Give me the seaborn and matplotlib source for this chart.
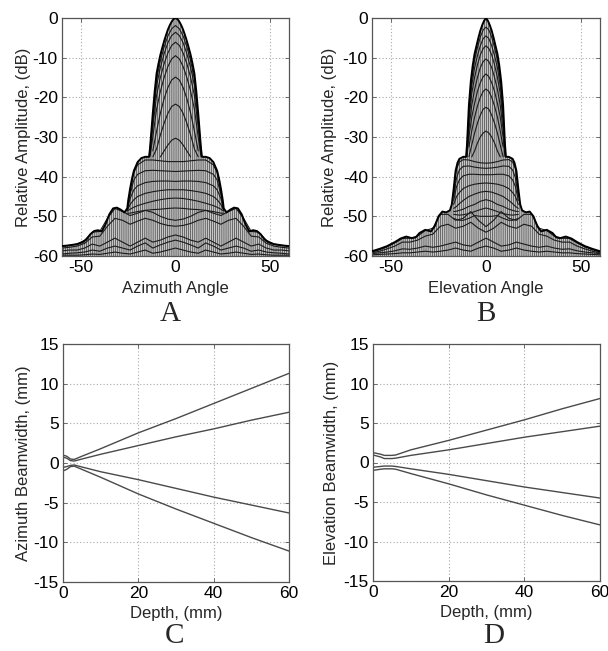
import numpy as np
import pandas as pd
import matplotlib
matplotlib.use("Agg")
import matplotlib.pyplot as plt
import seaborn as sns

sns.set_theme(style="white")
plt.rcParams["font.family"] = ["Liberation Sans", "DejaVu Sans"]
plt.rcParams["axes.unicode_minus"] = False
plt.rcParams["hatch.linewidth"] = 0.45
plt.rcParams["hatch.color"] = "#333333"

# ---------------- Panel A data (azimuth beam pattern, half profiles, mirrored) ----------------
env_ang_A = [0, 1, 2, 3, 4, 5, 6, 7, 8, 9, 10, 11, 12, 12.5, 13, 13.5, 14, 16, 18, 20, 22, 23,
             24, 25, 25.5, 27, 29, 31, 33, 35, 37, 39, 41, 43, 45, 47, 49, 52, 56, 60]
env_A = [0, -0.25, -0.9, -1.8, -2.9, -4.3, -5.8, -7.5, -9.3, -11.5, -14, -18.5, -24, -27, -30,
         -33, -35, -35, -35.3, -36.3, -38.5, -40.5, -43, -46, -48, -49, -48.3, -47.8, -48, -49.5,
         -52, -53.8, -53.5, -53.7, -54.5, -55.8, -56.5, -57, -57.3, -57.5]

arch_ang_A = [0, 2, 4, 6, 8, 10, 12, 13.5]
arches_A = [
    [-1.9, -2.7, -4.5, -7.3, -10.8, -15.5, -25, -33.5],
    [-3.6, -4.4, -6.2, -9, -12.5, -17, -26, -34],
    [-6.1, -6.9, -8.8, -11.5, -15, -19.5, -27.5, -34.5],
    [-9.5, -10.3, -12.2, -15, -18.5, -23, -30, -35],
    [-14.9, -15.6, -17.5, -20.3, -24, -28.5, -33.5, np.nan],
    [-21.7, -22.3, -24, -26.5, -29.5, -33, -35, np.nan],
    [-30.3, -30.8, -32, -33.5, -35, np.nan, np.nan, np.nan],
]

plat_ang_A = [0, 4, 8, 12, 16, 20, 22, 24, 25.5]
plats_A = [
    [-36.2, -36.2, -36, -35.8, -35.8, -37, -39, -43.8, -48.2],
    [-38.7, -38.6, -38.5, -38.4, -38.5, -39.4, -40.8, -44.5, -48.3],
    [-41.2, -41.1, -41.1, -41.2, -41.5, -42.3, -43.3, -45.5, -48.4],
    [-43.3, -43.3, -43.5, -43.8, -44.2, -45, -45.8, -47, -48.5],
    [-45.4, -45.5, -45.8, -46.2, -46.7, -47.3, -47.7, -48.2, -48.7],
    [-47.9, -48, -48.2, -48.3, -48.5, -48.8, -49, -49.2, -49.2],
]

low_ang = [0, 4, 8, 12, 16, 20, 24, 28, 32, 36, 40, 44, 48, 52, 56, 60]
lows_A = [
    [-51, -50.7, -50, -49, -48.5, -49.2, -49.8, -48.8, -48, -50.5, -53.8, -54, -56, -57, -57.3, -57.6],
    [-52.5, -52.3, -51.8, -51, -50.5, -51.2, -52, -51, -50.5, -52.5, -55, -55.2, -56.8, -57.5, -57.8, -58],
    [-54.7, -55.2, -56, -56.5, -55.5, -56.5, -57.5, -56.5, -55.5, -56.5, -57.5, -57, -58, -58.5, -58.5, -58.7],
    [-56, -56.5, -57.2, -58, -56.7, -57.5, -58.5, -58, -57.5, -58, -58.8, -58.5, -59, -59.2, -59.3, -59.5],
    [-58, -58.5, -59, -59.3, -58.5, -59, -59.5, -59.3, -59, -59.3, -59.6, -59.5, -59.7, -59.8, -59.8, -59.8],
]

# ---------------- Panel B data (elevation beam pattern) ----------------
env_ang_B = [0, 1, 2, 3, 4, 5, 6, 7, 8, 9, 9.5, 10, 10.5, 12, 14, 15, 16, 17, 18, 19, 21, 23,
             25, 27, 29, 32, 35, 37, 39, 42, 45, 48, 52, 56, 60]
env_B = [0, -0.7, -1.8, -3.2, -5, -7, -9, -12, -16, -22, -27, -32, -35, -35, -35.5, -36.5, -38.5,
         -43, -47, -48.5, -49, -48.8, -50, -52.5, -53.8, -53.4, -54.2, -55.3, -55.5, -55.1,
         -55.6, -56.5, -57.5, -58.2, -58.8]

arch_ang_B = [0, 1.5, 3, 4.5, 6, 7.5, 9, 10]
arches_B = [
    [-2.3, -3, -4.8, -7.5, -10.5, -15.5, -23.5, -33],
    [-4.5, -5.2, -7, -9.5, -12.5, -17, -24.5, -33.5],
    [-7, -7.7, -9.3, -11.8, -15, -19, -26, -34],
    [-10.3, -11, -12.5, -15, -18, -22, -28, -34.5],
    [-14.1, -14.8, -16.3, -18.5, -21.5, -25, -30, -35],
    [-17.9, -18.5, -20, -22.2, -25, -28.5, -32.5, np.nan],
    [-22.5, -23, -24.5, -26.5, -29, -32, -35, np.nan],
    [-28.5, -29, -30, -31.5, -33.5, -35, np.nan, np.nan],
]

plat_ang_B = [0, 3, 6, 9, 12, 14, 15.5, 17]
plats_B = [
    [-36.6, -36.5, -36.2, -35.8, -35.7, -36.3, -38, -44],
    [-37.9, -37.8, -37.6, -37.3, -37.4, -38.3, -40.3, -45],
    [-39.5, -39.5, -39.4, -39.4, -39.8, -40.8, -42.5, -46],
    [-41.6, -41.7, -41.9, -42.3, -43, -44, -45, -47],
    [-43.7, -43.9, -44.4, -45, -46, -46.8, -47.5, -48],
    [-45.8, -46.2, -47, -47.5, -48.2, -48.5, -48.7, -48.8],
    [-47.9, -48.3, -48.8, -49.3, -49.6, -49.7, -49.6, -49.5],
    [-50, -50, -49.8, -50.5, -51, -51, -50.8, -50.5],
]

lows_B = [
    [-52.6, -51, -48.8, -50.5, -51, -49.5, -49.5, -53, -53.6, -55, -55.5, -55.6, -56.7, -57.7, -58.4, -59],
    [-54, -53, -51.5, -52.5, -53, -52, -52.5, -54.5, -55, -56, -56.5, -56.5, -57.5, -58.2, -58.8, -59.2],
    [-55.5, -56.5, -57.5, -57.2, -56.5, -57, -57.5, -57.8, -57.5, -58, -58.3, -58.2, -58.7, -59, -59.2, -59.4],
    [-57.5, -58, -58.8, -58.5, -58, -58.5, -58.8, -59, -58.8, -59, -59.2, -59.2, -59.4, -59.5, -59.6, -59.7],
]

# ---------------- Panels C / D data (beamwidth vs depth) ----------------
depth_C = [0, 1, 2, 3, 5, 10, 20, 30, 40, 50, 60]
c_outer_up = [1.0, 0.85, 0.5, 0.45, 0.85, 1.8, 3.8, 5.6, 7.5, 9.4, 11.3]
c_inner_up = [0.75, 0.6, 0.3, 0.25, 0.5, 1.1, 2.2, 3.3, 4.3, 5.4, 6.4]
c_inner_lo = [-0.55, -0.45, -0.3, -0.25, -0.5, -1.1, -2.1, -3.2, -4.3, -5.3, -6.3]
c_outer_lo = [-1.0, -0.8, -0.45, -0.4, -0.8, -1.8, -3.9, -5.8, -7.6, -9.4, -11.1]

depth_D = [0, 2, 3, 5, 6, 10, 20, 30, 40, 50, 60]
d_outer_up = [1.25, 1.05, 0.9, 0.9, 0.95, 1.6, 2.8, 4.1, 5.4, 6.8, 8.1]
d_inner_up = [0.95, 0.7, 0.5, 0.5, 0.55, 0.9, 1.6, 2.4, 3.2, 3.9, 4.6]
d_inner_lo = [-0.6, -0.5, -0.45, -0.45, -0.5, -0.8, -1.5, -2.3, -3.1, -3.8, -4.5]
d_outer_lo = [-1.0, -0.85, -0.8, -0.8, -0.85, -1.4, -2.7, -4.1, -5.4, -6.7, -7.9]

angle_ticks = [-50, 0, 50]
db_ticks = [0, -10, -20, -30, -40, -50, -60]
depth_ticks = [0, 20, 40, 60]
bw_ticks = [15, 10, 5, 0, -5, -10, -15]


def mirror(ang, vals):
    a = np.asarray(ang, float)
    v = np.asarray(vals, float)
    return np.concatenate([-a[::-1], a[1:]]), np.concatenate([v[::-1], v[1:]])


TICK_FS = 12.5
LAB_FS = 12
LETTER_FS = 21
SPINE_C = "#555555"


def style_axes(ax):
    for s in ax.spines.values():
        s.set_visible(True)
        s.set_color(SPINE_C)
        s.set_linewidth(0.9)
    ax.tick_params(direction="in", length=3, width=0.6, colors=SPINE_C,
                   labelcolor="black", labelsize=TICK_FS, pad=3,
                   top=True, right=True, bottom=True, left=True)
    ax.grid(True, linestyle=(0, (1, 2)), color="#a8a8a8", linewidth=0.8)
    ax.set_axisbelow(True)


def draw_pattern(ax, env_ang, env, arch_ang, arches, plat_ang, plats, lows, xlabel):
    xa, ya = mirror(env_ang, env)
    ax.fill_between(xa, -60, ya, facecolor="#c6c6c6", edgecolor="#333333",
                    hatch="|" * 8, linewidth=0, zorder=1)
    row_c = "#1a1a1a"
    for grp_ang, grp in ((arch_ang, arches), (plat_ang, plats), (low_ang, lows)):
        for r in grp:
            x, y = mirror(grp_ang, r)
            df = pd.DataFrame({"x": x, "y": y}).dropna()
            sns.lineplot(data=df, x="x", y="y", ax=ax, color=row_c, lw=0.8,
                         estimator=None, sort=False, zorder=2)
    df = pd.DataFrame({"x": xa, "y": ya})
    sns.lineplot(data=df, x="x", y="y", ax=ax, color="black", lw=1.4,
                 estimator=None, sort=False, zorder=3)
    ax.set_xlim(-60, 60)
    ax.set_ylim(-60, 0)
    ax.set_xticks(angle_ticks)
    ax.set_yticks(db_ticks)
    ax.set_xlabel(xlabel, fontsize=LAB_FS)
    ax.set_ylabel("Relative Amplitude, (dB)", fontsize=LAB_FS)
    style_axes(ax)


def draw_width(ax, depth, lines, ylabel):
    for ln in lines:
        df = pd.DataFrame({"x": depth, "y": ln})
        sns.lineplot(data=df, x="x", y="y", ax=ax, color="#4a4a4a", lw=1.0,
                     estimator=None, sort=False)
    ax.set_xlim(0, 60)
    ax.set_ylim(-15, 15)
    ax.set_xticks(depth_ticks)
    ax.set_yticks(bw_ticks)
    ax.set_xlabel("Depth, (mm)", fontsize=LAB_FS)
    ax.set_ylabel(ylabel, fontsize=LAB_FS)
    style_axes(ax)


W, H = 608, 651
fig = plt.figure(figsize=(W / 100, H / 100), dpi=100)


def add_ax(l, r, t, b):
    return fig.add_axes([l / W, 1 - b / H, (r - l) / W, (b - t) / H])


axA = add_ax(62, 289, 18, 256)
axB = add_ax(372, 600, 18, 256)
axC = add_ax(63, 289, 344, 582)
axD = add_ax(373, 600, 344, 581)

draw_pattern(axA, env_ang_A, env_A, arch_ang_A, arches_A, plat_ang_A, plats_A, lows_A, "Azimuth Angle")
draw_pattern(axB, env_ang_B, env_B, arch_ang_B, arches_B, plat_ang_B, plats_B, lows_B, "Elevation Angle")
draw_width(axC, depth_C, [c_outer_up, c_inner_up, c_inner_lo, c_outer_lo], "Azimuth Beamwidth, (mm)")
draw_width(axD, depth_D, [d_outer_up, d_inner_up, d_inner_lo, d_outer_lo], "Elevation Beamwidth, (mm)")

# label positions
axA.yaxis.set_label_coords((31 - 62) / 227, 0.5)
axB.yaxis.set_label_coords((337 - 372) / 228, 0.5)
axC.yaxis.set_label_coords((31 - 63) / 226, 0.5)
axD.yaxis.set_label_coords((339 - 373) / 227, 0.5)
for ax in (axA, axB):
    ax.xaxis.set_label_coords(0.5, -(281 - 256) / 238)
for ax in (axC, axD):
    ax.xaxis.set_label_coords(0.5, -(606 - 582) / 238)

serif = ["Liberation Serif", "DejaVu Serif"]
for txt, x, y in (("A", 170, 314), ("B", 486, 314), ("C", 175, 636), ("D", 494, 636)):
    fig.text(x / W, 1 - y / H, txt, family=serif, fontsize=LETTER_FS,
             ha="center", va="center")

fig.savefig("out.png", dpi=100)
